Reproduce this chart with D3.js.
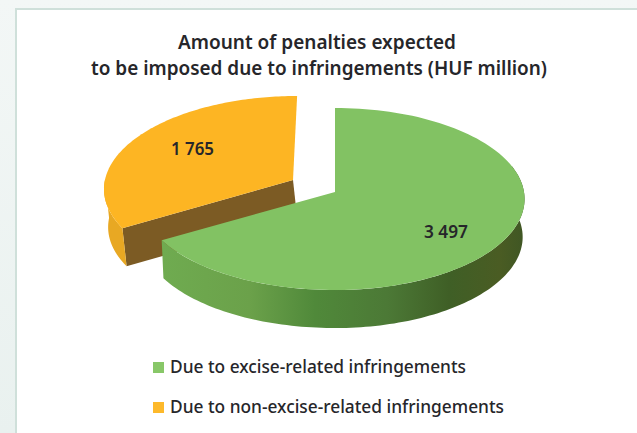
<!DOCTYPE html>
<html><head><meta charset="utf-8">
<script src="https://cdn.jsdelivr.net/npm/d3@7"></script>
<style>html,body{margin:0;padding:0;background:#fff}svg{display:block}text{font-family:"Noto Sans",sans-serif;fill:#26262a}</style>
</head><body><svg id="c" width="637" height="433"></svg>
<script>
const categories=["Due to excise-related infringements","Due to non-excise-related infringements"];
const values=[3497,1765];
const valueLabels=["3 497","1 765"];
const titleLines=["Amount of penalties expected","to be imposed due to infringements (HUF million)"];
const topColors=["#82c263","#fdb523"];
const svg=d3.select("#c");
const defs=svg.append("defs");
const bg=defs.append("linearGradient").attr("id","bg").attr("x1",0).attr("x2",0).attr("y1",0).attr("y2",1);
bg.append("stop").attr("offset",0).attr("stop-color","#f3f7f6");
bg.append("stop").attr("offset",1).attr("stop-color","#e9f1ef");
const gs=defs.append("linearGradient").attr("id","side").attr("gradientUnits","userSpaceOnUse").attr("x1",-172).attr("x2",190).attr("y1",0).attr("y2",0);
[[0,"#6fab50"],[.24,"#6ba14a"],[.42,"#50893a"],[.62,"#4c7936"],[.79,"#3f5f26"],[.93,"#4a5c23"],[1,"#3f5624"]].forEach(([o,c])=>gs.append("stop").attr("offset",o).attr("stop-color",c));
svg.append("rect").attr("width",637).attr("height",433).attr("fill","url(#bg)");
svg.append("rect").attr("x",16).attr("y",9).attr("width",640).attr("height",440).attr("fill","#fff").attr("stroke","#cfe0da").attr("stroke-width",2);

const pie=d3.pie().sort(null)(values);
const rx=189,ka=90.5,k=.0769,depth=38;
const line=d3.line();
const proj=(a,leftScale)=>{const x=Math.sin(a),y=-Math.cos(a),w=1-k*y;return [rx*x/w*(x<0?leftScale:1),ka*y/w];};
const arcPts=(a0,a1,ls)=>d3.range(0,121).map(i=>proj(a0+(a1-a0)*i/120,ls));

// non-excise slice, pulled out up and to the left, behind the main slice
const pO=pie[1], lsO=.995;
const gO=svg.append("g").attr("transform","translate(293,180) skewX(-2.8)");
const tip=proj(pO.startAngle,lsO);
gO.append("path").attr("d",line([[0,0],tip,[tip[0]+6,tip[1]+depth],[6,depth]])+"Z").attr("fill","#7c5b24");
const rimO=arcPts(pO.startAngle,Math.PI*1.5,lsO);
gO.append("path").attr("d",line([...rimO,...rimO.map(([x,y])=>[x+6,y+depth]).reverse()])+"Z").attr("fill","#e8a823");
gO.append("path").attr("d",line([[0,0],...arcPts(pO.startAngle,pO.endAngle,lsO)])+"Z").attr("fill",topColors[1]);

// excise slice
const pG=pie[0], lsG=1.025;
const gG=svg.append("g").attr("transform","translate(335,192)");
const rimG=arcPts(Math.PI/2-.3,pG.endAngle,lsG);
gG.append("path").attr("d",line([...rimG,...rimG.map(([x,y])=>[x*.99,y+depth]).reverse()])+"Z").attr("fill","url(#side)");
gG.append("path").attr("d",line([[0,0],...arcPts(pG.startAngle,pG.endAngle,lsG)])+"Z").attr("fill",topColors[0]);

const text=(x,y,s,size,weight,len)=>svg.append("text").attr("x",x).attr("y",y).attr("font-size",size).attr("font-weight",weight).attr("textLength",len).attr("lengthAdjust","spacingAndGlyphs").text(s);
text(178,49,titleLines[0],20,600,278);
text(91,75,titleLines[1],20,600,456);
text(424,238,valueLabels[0],17.5,600,44);
text(171,155,valueLabels[1],17.5,600,43);
const ly=d3.scalePoint().domain(categories).range([373,413]);
const lw=[296,334];
categories.forEach((c,i)=>{
  svg.append("rect").attr("x",153).attr("y",ly(c)-11).attr("width",11).attr("height",11).attr("fill",i?"#fdb92b":"#88c768");
  text(170,ly(c),c,17.5,500,lw[i]);
});
</script></body></html>
